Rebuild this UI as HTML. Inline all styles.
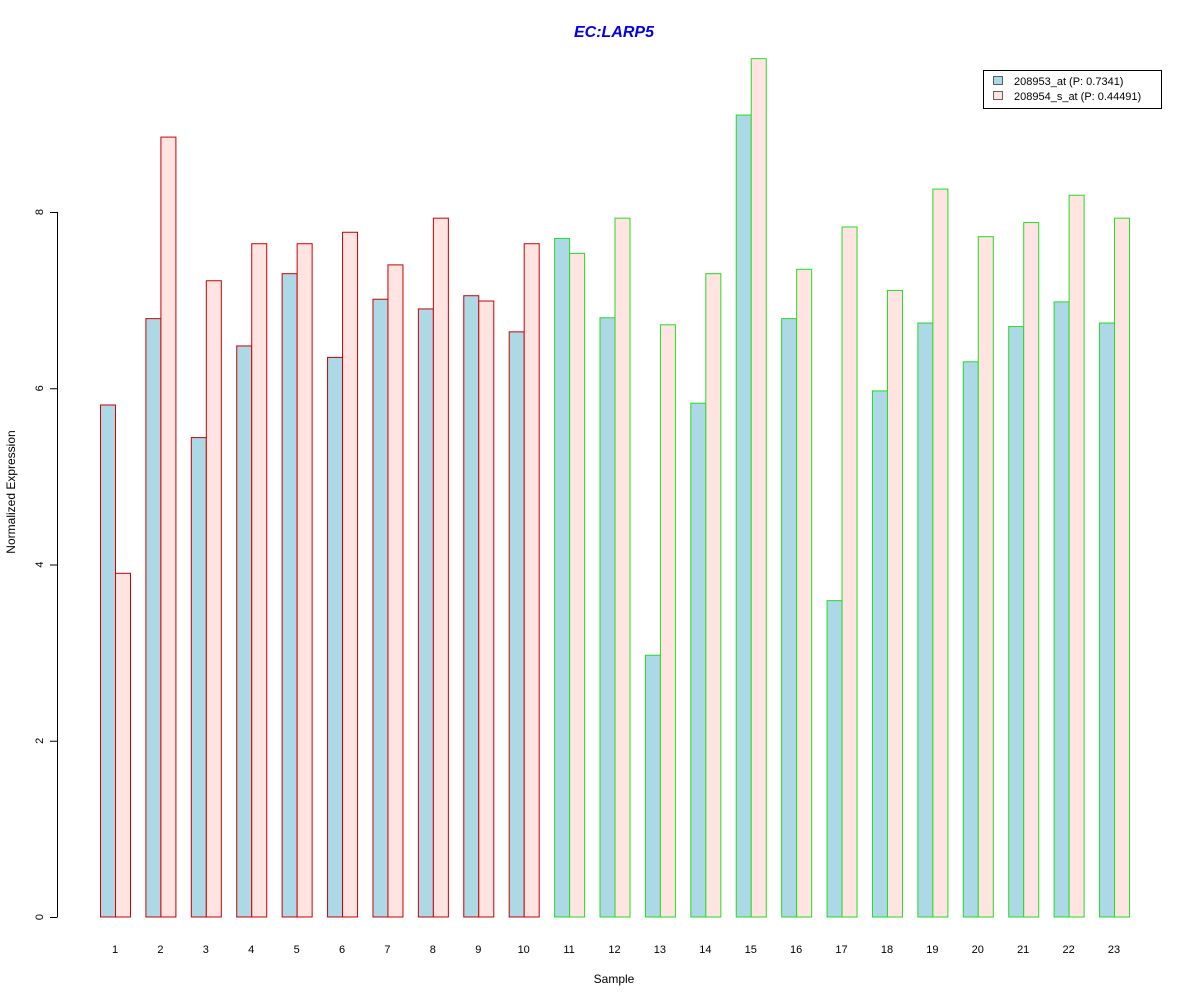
<!DOCTYPE html>
<html><head><meta charset="utf-8"><style>
body{margin:0;background:#fff;}
svg{display:block;font-family:"Liberation Sans",Arial,sans-serif;}
</style></head><body>
<svg id="chart" width="1200" height="1000" viewBox="0 0 1200 1000">
<text x="614" y="37" text-anchor="middle" font-size="16" font-weight="bold" font-style="italic" fill="#0000ee">EC:LARP5</text>
<g id="yaxis"></g>
<g id="bars"></g>
<g id="xlabels"></g>
<text x="614" y="983" text-anchor="middle" font-size="12" fill="#000">Sample</text>
<text transform="translate(15,492) rotate(-90)" text-anchor="middle" font-size="12" fill="#000">Normalized Expression</text>
<g>
<rect x="983.5" y="70.5" width="178" height="38" fill="#fff" stroke="#000"/>
<g>
<rect x="993.5" y="76.5" width="9" height="8" fill="#add8e6" stroke="#000" stroke-width="0.6"/>
<text x="1014" y="85" font-size="11">208953_at (P: 0.7341)</text></g>
<g>
<rect x="993.5" y="91.5" width="9" height="8" fill="#ffe4e1" stroke="#000" stroke-width="0.6"/>
<text x="1014" y="100" font-size="11">208954_s_at (P: 0.44491)</text></g>
</g>
</svg>
<script>
const categories = ["1","2","3","4","5","6","7","8","9","10","11","12","13","14","15","16","17","18","19","20","21","22","23"];
const series1 = [5.81,6.79,5.44,6.48,7.30,6.35,7.01,6.90,7.05,6.64,7.70,6.80,2.97,5.83,9.10,6.79,3.59,5.97,6.74,6.30,6.70,6.98,6.74];
const series2 = [3.90,8.85,7.22,7.64,7.64,7.77,7.40,7.93,6.99,7.64,7.53,7.93,6.72,7.30,9.74,7.35,7.83,7.11,8.26,7.72,7.88,8.19,7.93];
const groupRed = 10;
const yTicks = [0,2,4,6,8];
const NS='http://www.w3.org/2000/svg';
function y(v){return 917 - v*88.125;}
function xStart(i){return 100 + i*45.41;}
const bars=document.getElementById('bars');
const ya=document.getElementById('yaxis');
const xl=document.getElementById('xlabels');
function mk(tag,attrs,parent){const e=document.createElementNS(NS,tag);for(const k in attrs)e.setAttribute(k,attrs[k]);parent.appendChild(e);return e;}
const axisLine=mk('line',{x1:57.5,x2:57.5,y1:y(0),y2:y(8),stroke:'#000'},ya);


yTicks.forEach(t=>{
  const l=mk('line',{x1:50,x2:57.5,y1:y(t)+0.5,y2:y(t)+0.5,stroke:'#000'},ya);
  
  
  const tx=mk('text',{transform:`translate(43,${y(t)}) rotate(-90)`,'text-anchor':'middle','font-size':11},ya);
  tx.textContent=t;
  
  
});
categories.forEach((c,i)=>{
  const x=xStart(i);
  const stroke = i<groupRed ? '#cc0000' : '#22dd22';
  const b1=mk('rect',{x:x+0.5,y:y(series1[i]),width:15,height:y(0)-y(series1[i]),fill:'#add8e6',stroke:stroke},bars);
  
  
  const b2=mk('rect',{x:x+15.5,y:y(series2[i]),width:15,height:y(0)-y(series2[i]),fill:'#ffe4e1',stroke:stroke},bars);
  
  
  const t=mk('text',{x:x+15,y:953,'text-anchor':'middle','font-size':11},xl);
  t.textContent=c;
  
  
});
</script>
</body></html>
